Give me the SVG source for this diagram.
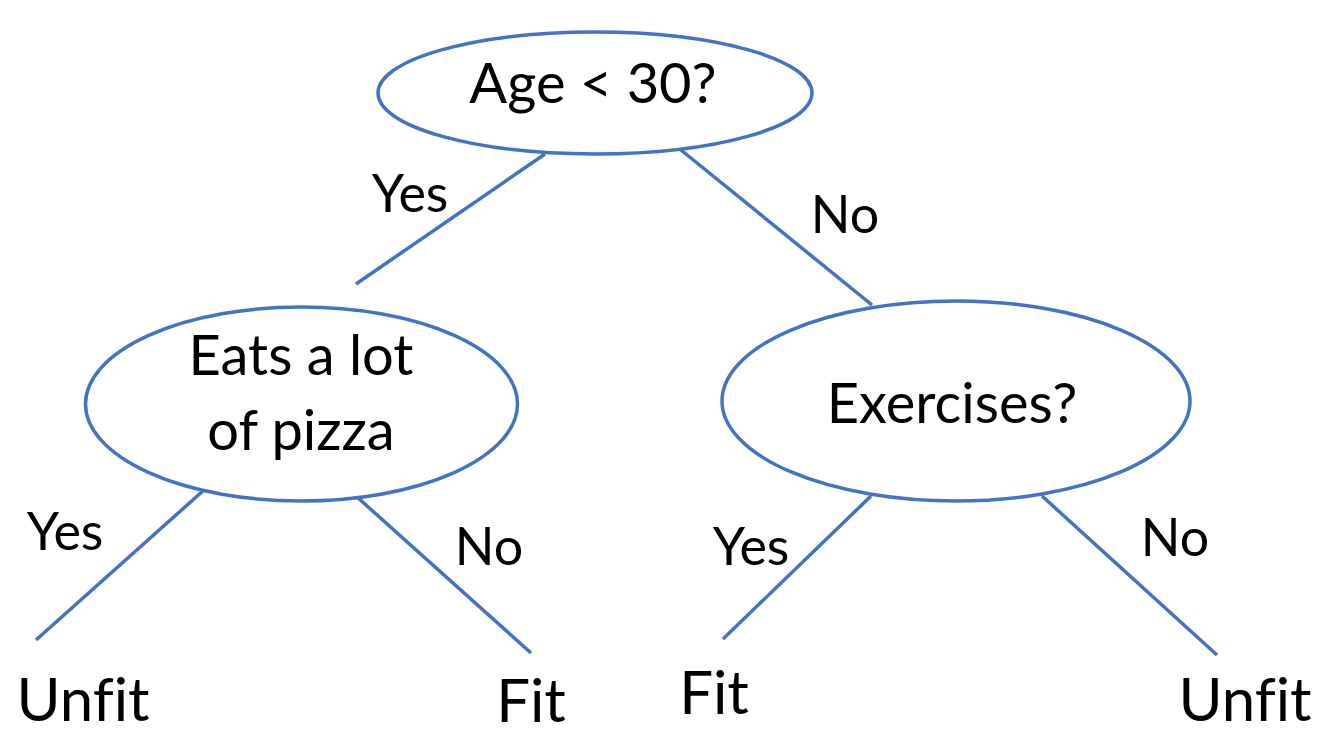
<svg xmlns="http://www.w3.org/2000/svg" width="1322" height="734" viewBox="0 0 1322 734">
  <style>
    .node { fill: #ffffff; stroke: #4472C4; stroke-width: 3.5; }
    .edge { stroke: #4472C4; stroke-width: 3.5; fill: none; }
    text { font-family: Lato, "Liberation Sans", sans-serif; fill: #000000; text-anchor: middle; font-variant-ligatures: none; }
    .q { font-size: 56px; }
    .lbl { font-size: 52px; }
    .leaf { font-size: 60px; }
  </style>
  <rect width="1322" height="734" fill="#ffffff"/>

  <g id="connectors">
    <line class="edge" x1="545" y1="154" x2="356" y2="284"/>
    <line class="edge" x1="681" y1="150" x2="872" y2="305"/>
    <line class="edge" x1="204" y1="490" x2="36" y2="640"/>
    <line class="edge" x1="357" y1="497" x2="531" y2="653"/>
    <line class="edge" x1="871" y1="496" x2="723" y2="639"/>
    <line class="edge" x1="1042" y1="496" x2="1217" y2="655"/>
    <text class="lbl" x="410" y="212">Yes</text>
    <text class="lbl" x="845" y="233">No</text>
    <text class="lbl" x="65" y="550">Yes</text>
    <text class="lbl" x="489" y="565">No</text>
    <text class="lbl" x="751" y="565">Yes</text>
    <text class="lbl" x="1175" y="556">No</text>
  </g>

  <g id="age">
    <ellipse class="node" cx="595" cy="93" rx="217" ry="61"/>
    <text class="q" x="593" y="103">Age &lt; 30?</text>
  </g>

  <g id="pizza">
    <ellipse class="node" cx="301.5" cy="404" rx="216" ry="97"/>
    <text class="q" x="301" y="375">Eats a lot</text>
    <text class="q" x="301" y="450">of pizza</text>
  </g>

  <g id="exercises">
    <ellipse class="node" cx="956" cy="401" rx="234" ry="100"/>
    <text class="q" x="952" y="423">Exercises?</text>
  </g>

  <g id="leaf-unfit-left">
    <text class="leaf" x="83" y="721">Unfit</text>
  </g>
  <g id="leaf-fit-left">
    <text class="leaf" x="531" y="722">Fit</text>
  </g>
  <g id="leaf-fit-right">
    <text class="leaf" x="714" y="714">Fit</text>
  </g>
  <g id="leaf-unfit-right">
    <text class="leaf" x="1245" y="721">Unfit</text>
  </g>
</svg>
